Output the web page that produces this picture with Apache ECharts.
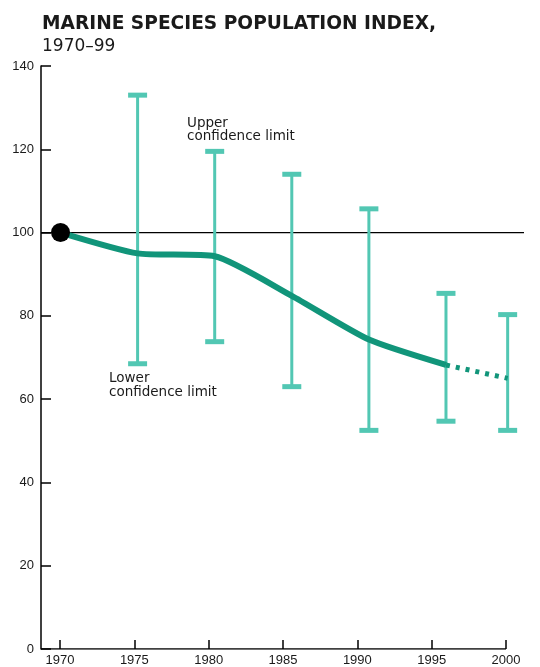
<!DOCTYPE html>
<html><head><meta charset="utf-8">
<script src="https://cdn.jsdelivr.net/npm/echarts@6/dist/echarts.min.js"></script>
<style>html,body{margin:0;padding:0;background:#fff}#c{width:540px;height:667px}</style>
</head><body><div id="c"></div>
<script>
// ---- data ----
const titleText = 'MARINE SPECIES POPULATION INDEX,';
const subtitleText = '1970–99';
const solidYears = [1970, 1975, 1980, 1985, 1990, 1995];
const indexSolid = [100, 95, 94.3, 84.8, 74.3, 68.2];
const dashedYears = [1995, 1999];
const indexDashed = [68.2, 65];
const ciYears = [1975, 1980, 1985, 1990, 1995, 1999];
const ciLower = [68.5, 73.8, 63, 52.5, 54.7, 52.5];
const ciUpper = [133, 119.5, 114, 105.7, 85.4, 80.3];
const xTickYears = [1970, 1975, 1980, 1985, 1990, 1995, 2000];
const baselineValue = 100;
const upperNote = 'Upper\nconfidence limit';
const lowerNote = 'Lower\nconfidence limit';

// ---- styling ----
const FONT = 'Liberation Sans';
const WIDE = 'DejaVu Sans';
const lineColor = '#11957a';
const ciColor = '#52c7b3';
const ink = '#1a1a1a';

const chart = echarts.init(document.getElementById('c'), null, {renderer: 'canvas'});
const dataMin = 1968.735, dataMax = 2000.06;
const axisMin = 1968.722, axisMax = 2001.21;

chart.setOption({
  backgroundColor: '#fff',
  animation: false,
  title: {
    text: titleText,
    subtext: subtitleText,
    left: 37, top: 10, itemGap: 4,
    textStyle: {fontFamily: WIDE, fontSize: 18.6, fontWeight: 'bold', color: ink},
    subtextStyle: {fontFamily: WIDE, fontSize: 17, color: ink}
  },
  grid: {left: 41, top: 66, width: 483, height: 583, containLabel: false},
  xAxis: [
    {
      type: 'value', min: axisMin, max: axisMax, position: 'bottom',
      axisLine: {show: false},
      axisTick: {show: true, inside: true, length: 9, customValues: xTickYears, lineStyle: {color: '#000', width: 1.5}},
      axisLabel: {customValues: xTickYears, formatter: v => String(v), fontFamily: FONT, fontSize: 13, color: ink, margin: 5},
      splitLine: {show: false}
    },
    {type: 'value', min: dataMin, max: dataMax, show: false, splitLine: {show: false}}
  ],
  yAxis: {
    type: 'value', min: 0, max: 140, interval: 20,
    axisLine: {show: true, lineStyle: {color: '#000', width: 1.5}},
    axisTick: {show: true, inside: true, length: 10, lineStyle: {color: '#000', width: 1.5}},
    axisLabel: {fontFamily: FONT, fontSize: 13, color: ink, margin: 7},
    splitLine: {show: false}
  },
  graphic: [
    {type: 'text', left: 187, top: 116, style: {text: upperNote, font: '13.5px "DejaVu Sans"', fill: ink, lineHeight: 13}},
    {type: 'text', left: 109, top: 371, style: {text: lowerNote, font: '13.5px "DejaVu Sans"', fill: ink, lineHeight: 14}}
  ],
  series: [
    {
      // x-axis baseline (0 line) from the y axis to the 2000 tick
      type: 'line', xAxisIndex: 0, symbol: 'none', z: 5, silent: true,
      data: [[axisMin, 0], [xTickYears[xTickYears.length - 1], 0]],
      lineStyle: {color: '#000', width: 1.5}
    },
    {
      type: 'line', xAxisIndex: 1, symbol: 'none', z: 1, silent: true,
      data: [[dataMin, baselineValue], [dataMax, baselineValue]],
      lineStyle: {color: '#000', width: 1.2}
    },
    {
      type: 'custom', xAxisIndex: 1, z: 2, clip: false,
      data: ciYears.map((y, i) => [y, ciLower[i], ciUpper[i]]),
      renderItem: (params, api) => {
        const x = api.value(0);
        const pLo = api.coord([x, api.value(1)]);
        const pHi = api.coord([x, api.value(2)]);
        const capW = 19, capH = 5;
        const style = {fill: ciColor};
        return {type: 'group', children: [
          {type: 'rect', shape: {x: pLo[0] - 1.5, y: pHi[1], width: 3, height: pLo[1] - pHi[1]}, style},
          {type: 'rect', shape: {x: pHi[0] - capW / 2, y: pHi[1] - capH / 2, width: capW, height: capH}, style},
          {type: 'rect', shape: {x: pLo[0] - capW / 2, y: pLo[1] - capH / 2, width: capW, height: capH}, style}
        ]};
      }
    },
    {
      type: 'line', xAxisIndex: 1, clip: false, symbol: 'none', z: 3, smooth: 0.2,
      data: solidYears.map((y, i) => [y, indexSolid[i]]),
      lineStyle: {color: lineColor, width: 6}
    },
    {
      type: 'line', xAxisIndex: 1, clip: false, symbol: 'none', z: 3,
      data: dashedYears.map((y, i) => [y, indexDashed[i]]),
      lineStyle: {color: lineColor, width: 5, type: [4, 6]}
    },
    {
      type: 'scatter', xAxisIndex: 1, z: 4, symbol: 'circle', symbolSize: 19,
      data: [[solidYears[0], indexSolid[0]]],
      itemStyle: {color: '#000', opacity: 1}
    }
  ]
});
</script></body></html>
